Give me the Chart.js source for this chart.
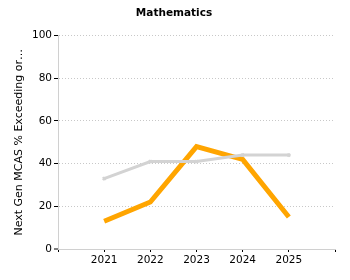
<!DOCTYPE html>
<html>
<head>
<meta charset="utf-8">
<script src="https://cdn.jsdelivr.net/npm/chart.js@4"></script>
<style>
html,body{margin:0;padding:0;background:#fff;}
#wrap{width:350px;height:280px;position:relative;}
</style>
</head>
<body>
<div id="wrap"><canvas id="c" width="350" height="280"></canvas></div>
<script>
const categories = ['', '2021', '2022', '2023', '2024', '2025', ''];
const stateValues = [null, 33, 41, 41, 44, 44, null];
const schoolValues = [null, 13, 22, 48, 42, 15, null];
const yTicks = [0, 20, 40, 60, 80, 100];
const titleText = 'Mathematics';
const yTitle = 'Next Gen MCAS % Exceeding or…';

const font = { family: 'DejaVu Sans', size: 10.5 };

new Chart(document.getElementById('c'), {
  type: 'line',
  data: {
    labels: categories,
    datasets: [
      {
        label: 'State',
        data: stateValues,
        borderColor: '#d3d3d3',
        backgroundColor: '#d3d3d3',
        borderWidth: 3,
        pointRadius: 2,
        pointStyle: 'crossRot',
        pointBorderWidth: 2,
        tension: 0,
        spanGaps: false
      },
      {
        label: 'School',
        data: schoolValues,
        borderColor: '#FFA500',
        backgroundColor: '#FFA500',
        borderWidth: 5,
        pointRadius: 0,
        tension: 0
      }
    ]
  },
  options: {
    responsive: false,
    animation: false,
    layout: { padding: { left: 13, right: 15, top: 0, bottom: 0 } },
    plugins: {
      legend: { display: false },
      tooltip: { enabled: false },
      title: {
        display: true,
        text: titleText,
        color: '#000',
        font: { family: 'DejaVu Sans', size: 10.5, weight: 'bold' },
        padding: { top: 7, bottom: 16 }
      }
    },
    scales: {
      x: {
        offset: false,
        border: { display: true, color: '#d0d0d0', width: 1 },
        grid: {
          display: true,
          drawOnChartArea: false,
          drawTicks: true,
          tickLength: 3,
          tickColor: '#000',
          tickWidth: 1
        },
        ticks: {
          color: '#000',
          font: font,
          padding: 2,
          maxRotation: 0,
          autoSkip: false
        },
        afterFit: (s) => { s.height = 31; }
      },
      y: {
        min: 0,
        max: 100,
        afterBuildTicks: (s) => { s.ticks = yTicks.map(v => ({ value: v })); },
        border: { display: true, color: '#d0d0d0', width: 1, dash: [1, 2] },
        grid: {
          color: '#c8c8c8',
          tickLength: 4,
          tickColor: '#000',
          tickBorderDash: [],
          tickWidth: 1,
          lineWidth: (ctx) => ctx.tick && ctx.tick.value === 0 ? 0 : 1
        },
        ticks: {
          color: '#000',
          font: font,
          padding: 2
        },
        title: {
          display: true,
          text: yTitle,
          color: '#000',
          font: { family: 'DejaVu Sans', size: 11 },
          padding: { top: 0, bottom: 6 }
        },
        afterFit: (s) => { s.width = 45; }
      }
    }
  }
});
</script>
</body>
</html>
